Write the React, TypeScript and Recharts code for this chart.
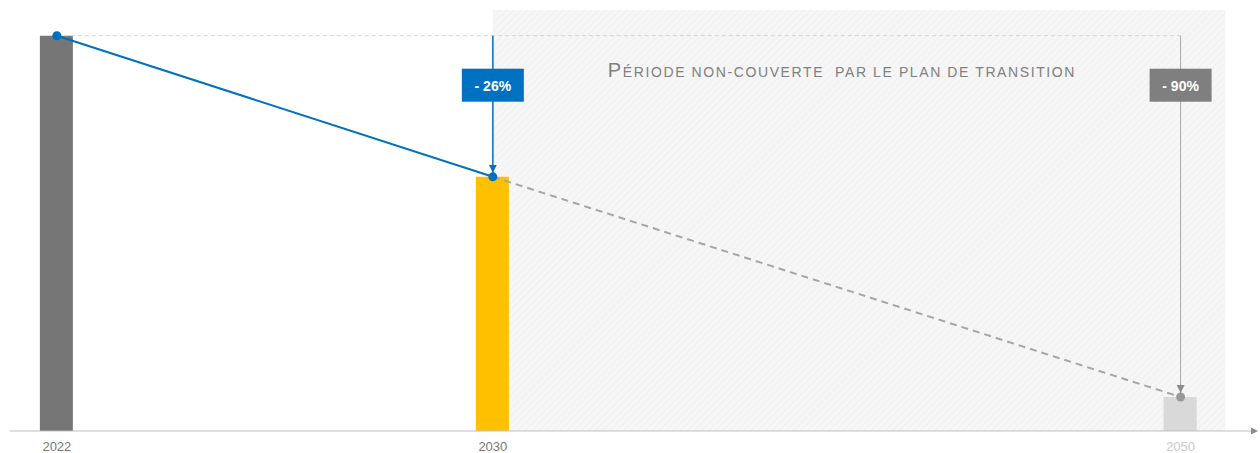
import React from 'react';
import { ComposedChart, Bar, Line, Cell, XAxis, YAxis, ReferenceArea, ReferenceLine } from 'recharts';

// values (2022 = 100)
const years = [2022, 2030, 2050];
const yearLabels = ['2022', '2030', '2050'];
const emissions = [100, 64.3, 8.6];
const planPath = [100, 64.3, null];
const trendPath = [null, 64.3, 8.6];
const reductionLabels = ['- 26%', '- 90%'];
const barColors = ['#767676', '#FFC000', '#D9D9D9'];
const tickColors = ['#777777', '#777777', '#C8C8C8'];
const title = 'PÉRIODE NON-COUVERTE  PAR LE PLAN DE TRANSITION';

// the axis is broken after 2030: later years are drawn compressed
const BREAK_YEAR = 2030;
const LATE_SCALE = 0.631;
const axisPos = (y: number) => (y <= BREAK_YEAR ? y : BREAK_YEAR + (y - BREAK_YEAR) * LATE_SCALE);
const SHADE_END = 2051.3;

const data = years.map((y, i) => ({
  pos: axisPos(y),
  label: yearLabels[i],
  emission: emissions[i],
  plan: planPath[i],
  trend: trendPath[i],
}));

const FONT = '"Liberation Sans", Arial, sans-serif';

const Box = ({ viewBox, text, color }: any) => {
  const { x, y } = viewBox;
  return (
    <g>
      <rect x={x - 31} y={y + 33} width={62} height={33} fill={color} />
      <text x={x} y={y + 55} textAnchor="middle" fill="#fff" fontSize={14} fontWeight="bold" fontFamily={FONT}>
        {text}
      </text>
    </g>
  );
};

const Title = ({ viewBox }: any) => (
  <text
    x={viewBox.x + 115}
    y={viewBox.y + 67}
    fill="#808080"
    fontFamily={FONT}
    letterSpacing={1.6}
    style={{ whiteSpace: 'pre' }}
  >
    <tspan fontSize={20}>{title[0]}</tspan>
    <tspan fontSize={14}>{title.slice(1)}</tspan>
  </text>
);

const YearTick = ({ x, y, index }: any) => (
  <text x={x} y={y + 20} textAnchor="middle" fill={tickColors[index]} fontSize={13} fontFamily={FONT}>
    {yearLabels[index]}
  </text>
);

export default function App() {
  return (
    <div style={{ position: 'absolute', left: 0, top: 0, background: '#fff' }}>
      <ComposedChart width={1260} height={453} data={data} margin={{ top: 10, right: 8, left: 10, bottom: 0 }}>
        <defs>
          <pattern id="hatch" width="5" height="5" patternUnits="userSpaceOnUse" patternTransform="rotate(45)">
            <rect width="5" height="5" fill="#f6f6f6" />
            <line x1="0" y1="0" x2="0" y2="5" stroke="#ececec" strokeWidth="1.2" />
          </pattern>
          <marker id="arrowBlue" markerWidth="12" markerHeight="8" refX="12" refY="4" orient="auto" markerUnits="userSpaceOnUse">
            <path d="M0,0 L8,4 L0,8 z" fill="#0070C0" />
          </marker>
          <marker id="arrowGray" markerWidth="12" markerHeight="8" refX="12" refY="4" orient="auto" markerUnits="userSpaceOnUse">
            <path d="M0,0 L8,4 L0,8 z" fill="#8c8c8c" />
          </marker>
          <marker id="arrowAxis" markerWidth="8" markerHeight="8" refX="1" refY="4" orient="auto" markerUnits="userSpaceOnUse">
            <path d="M0,0.5 L7,4 L0,7.5 z" fill="#8c8c8c" />
          </marker>
        </defs>
        <XAxis
          dataKey="pos"
          type="number"
          domain={[2021.14, 2043.93]}
          ticks={years.map(axisPos)}
          height={22}
          tickLine={false}
          tickSize={0}
          tickMargin={0}
          axisLine={{ stroke: '#bfbfbf', markerEnd: 'url(#arrowAxis)' }}
          tick={<YearTick />}
          interval={0}
        />
        <YAxis hide domain={[0, 106.5]} />
        <ReferenceArea
          x1={axisPos(BREAK_YEAR)}
          x2={axisPos(SHADE_END)}
          y1={0}
          y2={106.5}
          fill="url(#hatch)"
          fillOpacity={1}
          stroke="none"
          label={<Title />}
        />
        <ReferenceLine
          segment={[{ x: axisPos(years[0]), y: emissions[0] }, { x: axisPos(years[2]), y: emissions[0] }]}
          stroke="#d4d4d4"
          strokeDasharray="4 3"
        />
        <Bar dataKey="emission" barSize={33} isAnimationActive={false}>
          {data.map((_, i) => (
            <Cell key={i} fill={barColors[i]} />
          ))}
        </Bar>
        <ReferenceLine
          segment={[{ x: axisPos(years[1]), y: emissions[0] }, { x: axisPos(years[1]), y: emissions[1] }]}
          stroke="#0070C0"
          strokeWidth={1.5}
          shape={(p: any) => (
            <line x1={p.x1} y1={p.y1} x2={p.x2} y2={p.y2} stroke="#0070C0" strokeWidth={1.5} markerEnd="url(#arrowBlue)" />
          )}
          label={<Box text={reductionLabels[0]} color="#0070C0" />}
        />
        <ReferenceLine
          segment={[{ x: axisPos(years[2]), y: emissions[0] }, { x: axisPos(years[2]), y: emissions[2] }]}
          stroke="#a6a6a6"
          shape={(p: any) => (
            <line x1={p.x1} y1={p.y1} x2={p.x2} y2={p.y2} stroke="#a6a6a6" strokeWidth={1} markerEnd="url(#arrowGray)" />
          )}
          label={<Box text={reductionLabels[1]} color="#7f7f7f" />}
        />
        <Line
          dataKey="trend"
          stroke="#a6a6a6"
          strokeWidth={2}
          strokeDasharray="7 5"
          connectNulls={false}
          isAnimationActive={false}
          dot={(p: any) =>
            p.index === 2 ? <circle key={p.index} cx={p.cx} cy={p.cy} r={4.5} fill="#999" /> : <g key={p.index} />
          }
        />
        <Line
          dataKey="plan"
          stroke="#0070C0"
          strokeWidth={2}
          isAnimationActive={false}
          dot={(p: any) =>
            p.cy == null ? <g key={p.index} /> : <circle key={p.index} cx={p.cx} cy={p.cy} r={4.5} fill="#0070C0" />
          }
        />
      </ComposedChart>
    </div>
  );
}
